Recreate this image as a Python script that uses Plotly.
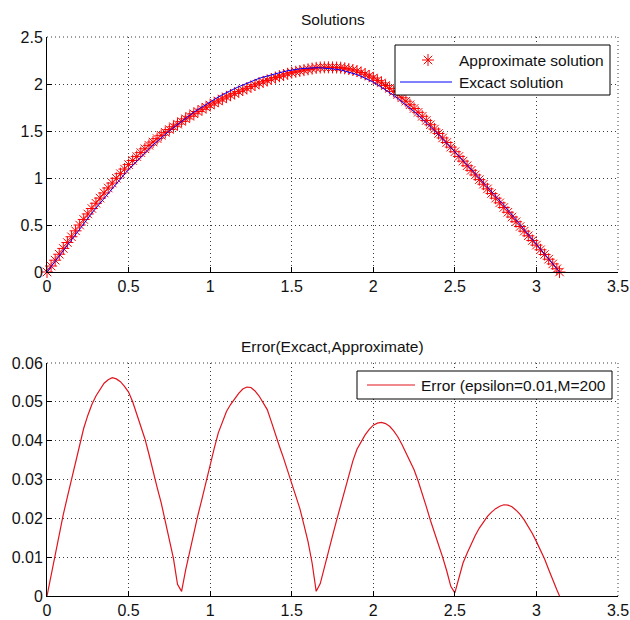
import numpy as np
import plotly.graph_objects as go

# ---------------------------------------------------------------------------
# data: sample points on [0, pi], exact solution and signed error (approx - exact)
# ---------------------------------------------------------------------------
x_pts = np.append(np.arange(0.0, 3.126, 0.025), np.pi)

exact_vals = [
    0.000, 0.058, 0.115, 0.173, 0.230, 0.288, 0.345, 0.403, 0.460, 0.516,
    0.571, 0.626, 0.680, 0.733, 0.786, 0.838, 0.890, 0.941, 0.991, 1.041,
    1.090, 1.136, 1.181, 1.226, 1.270, 1.311, 1.351, 1.391, 1.430, 1.466,
    1.501, 1.536, 1.570, 1.603, 1.636, 1.668, 1.700, 1.728, 1.756, 1.783,
    1.810, 1.836, 1.861, 1.886, 1.910, 1.931, 1.951, 1.971, 1.990, 2.008,
    2.026, 2.043, 2.060, 2.073, 2.086, 2.098, 2.110, 2.121, 2.131, 2.141,
    2.150, 2.156, 2.161, 2.166, 2.170, 2.172, 2.173, 2.172, 2.170, 2.166,
    2.161, 2.156, 2.150, 2.139, 2.127, 2.114, 2.100, 2.082, 2.063, 2.042,
    2.020, 1.994, 1.967, 1.939, 1.910, 1.879, 1.847, 1.814, 1.780, 1.744,
    1.707, 1.669, 1.630, 1.589, 1.547, 1.504, 1.460, 1.416, 1.371, 1.326,
    1.280, 1.234, 1.188, 1.141, 1.095, 1.048, 1.000, 0.953, 0.905, 0.857,
    0.808, 0.759, 0.710, 0.659, 0.608, 0.557, 0.505, 0.454, 0.403, 0.351,
    0.300, 0.248, 0.196, 0.143, 0.090, 0.036,
    0.000,
]

error_signed = [
    0.0000, 0.0055, 0.0110, 0.0160, 0.0210, 0.0255, 0.0300, 0.0350, 0.0395, 0.0432,
    0.0465, 0.0493, 0.0515, 0.0533, 0.0548, 0.0557, 0.0562, 0.0559, 0.0552, 0.0540,
    0.0525, 0.0500, 0.0470, 0.0440, 0.0405, 0.0365, 0.0320, 0.0280, 0.0240, 0.0195,
    0.0150, 0.0097, 0.0030, -0.0012, -0.0067, -0.0116, -0.0165, -0.0208, -0.0250, -0.0295,
    -0.0340, -0.0380, -0.0420, -0.0448, -0.0475, -0.0493, -0.0508, -0.0522, -0.0533, -0.0538,
    -0.0537, -0.0528, -0.0515, -0.0499, -0.0480, -0.0449, -0.0415, -0.0385, -0.0355, -0.0322,
    -0.0288, -0.0257, -0.0225, -0.0183, -0.0140, -0.0085, -0.0012, 0.0032, 0.0075, 0.0115,
    0.0155, 0.0195, 0.0235, 0.0275, 0.0315, 0.0348, 0.0378, 0.0398, 0.0415, 0.0429,
    0.0440, 0.0445, 0.0447, 0.0444, 0.0437, 0.0425, 0.0410, 0.0391, 0.0370, 0.0348,
    0.0325, 0.0296, 0.0265, 0.0230, 0.0195, 0.0165, 0.0135, 0.0100, 0.0065, 0.0025,
    -0.0008, -0.0045, -0.0085, -0.0110, -0.0135, -0.0156, -0.0175, -0.0191, -0.0205, -0.0216,
    -0.0225, -0.0231, -0.0235, -0.0234, -0.0230, -0.0221, -0.0210, -0.0196, -0.0180, -0.0161,
    -0.0140, -0.0118, -0.0095, -0.0068, -0.0040, -0.0016,
    0.0000,
]

exact = np.array(exact_vals)
err = np.array(error_signed)
approx = exact + err
abs_err = np.abs(err)

top_title = "Solutions"
bottom_title = "Error(Excact,Approximate)"
legend_top = ["Approximate solution", "Excact solution"]
legend_bottom = "Error (epsilon=0.01,M=200"

# ---------------------------------------------------------------------------
# layout geometry (pixels in a 630 x 620 page)
# ---------------------------------------------------------------------------
W, H = 630, 620
FONT = "Liberation Sans, Arial, Helvetica, sans-serif"
RED = "#FF0000"
ERR_RED = "#E0141E"
BLUE = "#0000FF"
GRID = "#3a3a3a"
GRID_DASH = "1px,3px"


def px_x(p):
    return p / W


def px_y(p):
    return 1 - p / H


AX_L, AX_R = 47, 618
TOP_T, TOP_B = 37, 272
BOT_T, BOT_B = 363, 596

fig = go.Figure()

# top panel: approximate (asterisks) and exact (line)
fig.add_trace(go.Scatter(
    x=x_pts, y=approx, mode="markers", name=legend_top[0],
    marker=dict(symbol="asterisk-open", size=10, color=RED,
                line=dict(color=RED, width=1)),
    cliponaxis=False, showlegend=False, xaxis="x", yaxis="y",
))
fig.add_trace(go.Scatter(
    x=x_pts, y=exact, mode="lines", name=legend_top[1],
    line=dict(color=BLUE, width=1), showlegend=False, xaxis="x", yaxis="y",
))

# bottom panel: absolute error
fig.add_trace(go.Scatter(
    x=x_pts, y=abs_err, mode="lines", name=legend_bottom,
    line=dict(color=ERR_RED, width=1.2), showlegend=False,
    xaxis="x2", yaxis="y2",
))

axis_common = dict(
    showline=True, linecolor="black", linewidth=1, mirror=False,
    ticks="inside", ticklen=5, tickwidth=1, tickcolor="black",
    showgrid=True, gridcolor=GRID, gridwidth=1, griddash=GRID_DASH,
    zeroline=False, tickfont=dict(family=FONT, size=16, color="#111"),
    fixedrange=True, automargin=False,
)

fig.update_layout(
    template="none",
    width=W, height=H,
    margin=dict(l=0, r=0, t=0, b=0, pad=0),
    paper_bgcolor="white", plot_bgcolor="rgba(0,0,0,0)",
    showlegend=False,
    xaxis=dict(domain=[px_x(AX_L), px_x(AX_R)], range=[0, 3.5], dtick=0.5,
               tick0=0, anchor="y", **axis_common),
    yaxis=dict(domain=[px_y(TOP_B), px_y(TOP_T)], range=[0, 2.5], dtick=0.5,
               tick0=0, anchor="x", **axis_common),
    xaxis2=dict(domain=[px_x(AX_L), px_x(AX_R)], range=[0, 3.5], dtick=0.5,
                tick0=0, anchor="y2", **axis_common),
    yaxis2=dict(domain=[px_y(BOT_B), px_y(BOT_T)], range=[0, 0.06], dtick=0.01,
                tick0=0, anchor="x2", **axis_common),
    # full-page pixel frame used for titles and legend boxes
    xaxis3=dict(domain=[0, 1], range=[0, W], visible=False, fixedrange=True,
                anchor="y3", automargin=False),
    yaxis3=dict(domain=[0, 1], range=[H, 0], visible=False, fixedrange=True,
                anchor="x3", automargin=False),
)

# legend marker sample (asterisk)
fig.add_trace(go.Scatter(
    x=[428], y=[60], mode="markers", showlegend=False, hoverinfo="skip",
    marker=dict(symbol="asterisk-open", size=10, color=RED,
                line=dict(color=RED, width=1)),
    xaxis="x3", yaxis="y3", cliponaxis=False,
))

shapes = [
    # dotted frame lines on the open sides of each panel (top and right)
    dict(type="line", xref="x3", yref="y3", x0=AX_L, x1=AX_R, y0=TOP_T, y1=TOP_T,
         line=dict(color=GRID, width=1, dash=GRID_DASH), layer="below"),
    dict(type="line", xref="x3", yref="y3", x0=AX_R, x1=AX_R, y0=TOP_T, y1=TOP_B,
         line=dict(color=GRID, width=1, dash=GRID_DASH), layer="below"),
    dict(type="line", xref="x3", yref="y3", x0=AX_L, x1=AX_R, y0=BOT_T, y1=BOT_T,
         line=dict(color=GRID, width=1, dash=GRID_DASH), layer="below"),
    dict(type="line", xref="x3", yref="y3", x0=AX_R, x1=AX_R, y0=BOT_T, y1=BOT_B,
         line=dict(color=GRID, width=1, dash=GRID_DASH), layer="below"),
    # legend boxes
    dict(type="rect", xref="x3", yref="y3", x0=395, x1=610, y0=45, y1=95,
         line=dict(color="black", width=1), fillcolor="white", layer="between"),
    dict(type="rect", xref="x3", yref="y3", x0=357, x1=612, y0=371, y1=399,
         line=dict(color="black", width=1), fillcolor="white", layer="between"),
    # legend line samples
    dict(type="line", xref="x3", yref="y3", x0=400, x1=452, y0=82, y1=82,
         line=dict(color=BLUE, width=1), layer="above"),
    dict(type="line", xref="x3", yref="y3", x0=367, x1=415, y0=385, y1=385,
         line=dict(color=ERR_RED, width=1.2), layer="above"),
]

text_font = dict(family=FONT, size=15.5, color="#111")
annotations = [
    dict(text=top_title, x=(AX_L + AX_R) / 2, y=19, xref="x3", yref="y3",
         showarrow=False, xanchor="center", yanchor="middle", font=text_font),
    dict(text=bottom_title, x=(AX_L + AX_R) / 2, y=346, xref="x3", yref="y3",
         showarrow=False, xanchor="center", yanchor="middle", font=text_font),
    dict(text=legend_top[0], x=457, y=60, xref="x3", yref="y3",
         showarrow=False, xanchor="left", yanchor="middle", font=text_font),
    dict(text=legend_top[1], x=457, y=82, xref="x3", yref="y3",
         showarrow=False, xanchor="left", yanchor="middle", font=text_font),
    dict(text=legend_bottom, x=419, y=385, xref="x3", yref="y3",
         showarrow=False, xanchor="left", yanchor="middle", font=text_font),
]

fig.update_layout(shapes=shapes, annotations=annotations)

fig.write_html("out.html")
